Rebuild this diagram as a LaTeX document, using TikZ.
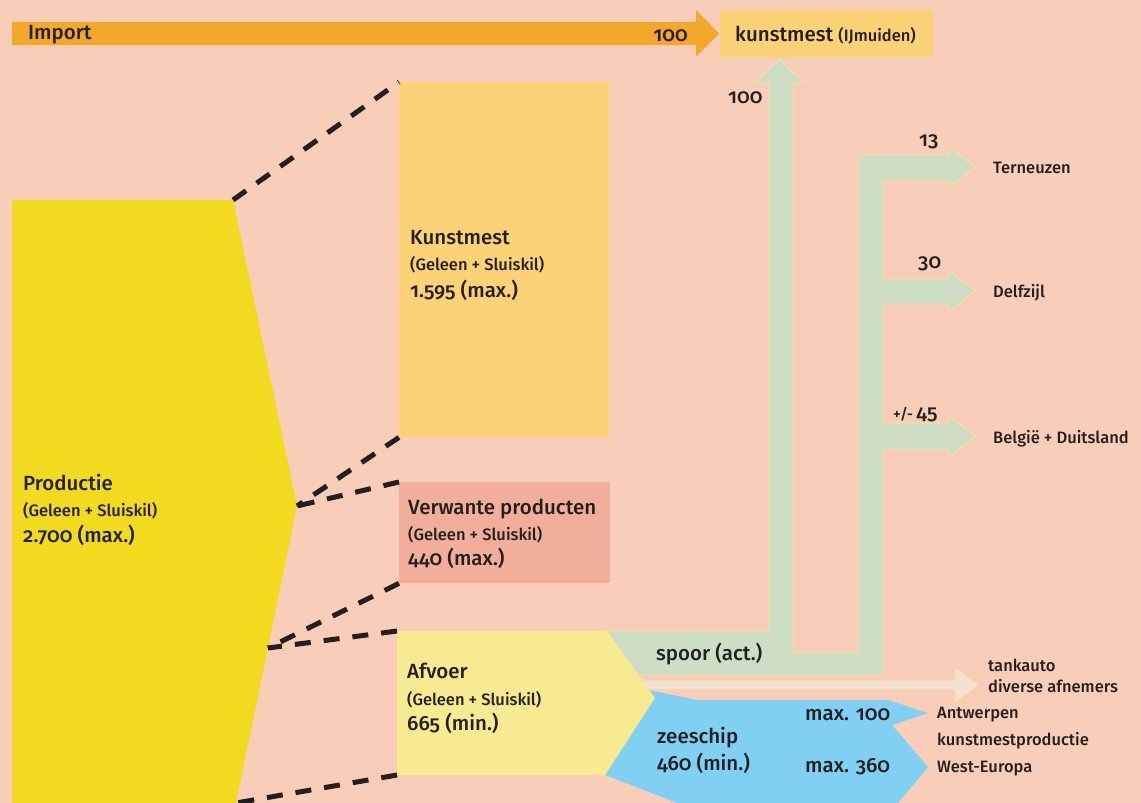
\documentclass[tikz,border=0pt]{standalone}
\usepackage{fontspec}
\setmainfont{Fira Sans}[Numbers=OldStyle, UprightFont={* Medium}]
\usetikzlibrary{positioning}

\definecolor{bgpeach}{RGB}{248,206,184}
\definecolor{importorange}{RGB}{243,168,41}
\definecolor{kunstgold}{RGB}{251,210,117}
\definecolor{prodyellow}{RGB}{242,219,30}
\definecolor{verwrose}{RGB}{241,174,155}
\definecolor{afvyellow}{RGB}{248,234,145}
\definecolor{spoorgreen}{RGB}{206,222,196}
\definecolor{flowedge}{RGB}{244,232,150}
\definecolor{shipblue}{RGB}{128,208,244}
\definecolor{tankpink}{RGB}{243,224,212}
\definecolor{inkdark}{RGB}{35,31,32}

\begin{document}
\begin{tikzpicture}[x=1pt, y=-1pt,
    % Styles
    box/.style={inner sep=0pt, anchor=north west},
    txt/.style={inner sep=0pt, anchor=base west, text=inkdark, font=\fontsize{20.5}{24}\selectfont},
    subtxt/.style={inner sep=0pt, anchor=base west, text=inkdark, font=\fontsize{16.5}{20}\selectfont},
    flow/.style={fill=spoorgreen, draw=flowedge, line width=0.8pt},
    dashlink/.style={draw=inkdark, line width=5pt, dash pattern=on 16pt off 13pt},
]
\useasboundingbox (0,0) rectangle (1141,803);
\fill[bgpeach] (0,0) rectangle (1141,803);

% Import
\fill[importorange] (12,22) -- (696,22) -- (696,10) -- (719,33.5) -- (696,57) -- (696,45) -- (12,45) -- cycle;

% Spoor: naar IJmuiden en de drie afnemers
\draw[flow] (600,631) -- (769,631) -- (769,83) -- (755,83) -- (779.5,59) -- (804,83) -- (793,83)
    -- (793,653) -- (859,653) -- (859,155)
    -- (949,155) -- (949,147) -- (975,167) -- (949,187) -- (949,180) -- (883,180)
    -- (883,279) -- (949,279) -- (949,271) -- (975,291) -- (949,312) -- (949,304) -- (883,304)
    -- (883,423) -- (949,423) -- (949,416) -- (975,436) -- (949,457) -- (949,449) -- (883,449)
    -- (883,675) -- (600,675) -- cycle;

% Tankauto
\draw[fill=tankpink, draw=flowedge, line width=0.8pt] (600,681) -- (955,681) -- (955,668) -- (978,685)
    -- (955,702) -- (955,689) -- (600,689) -- cycle;

% Zeeschip
\fill[shipblue] (600,680) -- (697,700) -- (888,700) -- (928,713) -- (892,725) -- (928,767)
    -- (898,803) -- (677,803) -- (605,775) -- cycle;

% Productie
\coordinate (prodNW) at (12,200);
\coordinate (prodNE) at (233,200);
\coordinate (prodTip) at (297,506);
\coordinate (prodMid) at (268,648);
\coordinate (prodSE) at (236,803);
\fill[prodyellow] (12,803) -- (prodNW) -- (prodNE) -- (prodTip) -- (prodSE) -- cycle;

% Afvoer
\coordinate (afvNW) at (397,631);
\coordinate (afvSW) at (397,775);
\fill[afvyellow] (afvNW) -- (607,631) -- (655,698) -- (605,775) -- (afvSW) -- cycle;

% Boxes
\node[box, fill=kunstgold, minimum width=213pt, minimum height=47pt] (kunstIJ) at (720,10) {};
\node[box, fill=kunstgold, minimum width=210pt, minimum height=355pt] (kunst) at (399,82) {};
\node[box, fill=verwrose, minimum width=211pt, minimum height=101pt] (verw) at (399,482) {};

% Dashed links
\draw[dashlink] (prodNE) -- (kunst.north west);
\draw[dashlink] (kunst.south west) -- (prodTip);
\draw[dashlink] (verw.north west) -- (prodTip);
\draw[dashlink] (verw.south west) -- (prodMid);
\draw[dashlink] (afvNW) -- (prodMid);
\draw[dashlink] (afvSW) -- (prodSE);

% Labels top
\node[txt] (importTxt) at (28,39) {Import};
\node[txt, anchor=base east] (importVal) at (688,41) {100};
\node[txt] (kunstIJTxt) at (735,41) {kunstmest {\fontsize{16.5}{20}\selectfont(IJmuiden)}};
\node[txt] (upVal) at (728,103) {100};

% Labels right
\node[txt] (ternVal) at (919,146) {13};
\node[txt] (delfVal) at (918,268) {30};
\node[txt] (belgVal) at (893,419) {{\fontsize{15}{18}\selectfont +/-}\,45};
\node[subtxt] (ternTxt) at (993,173) {Terneuzen};
\node[subtxt] (delfTxt) at (993,297) {Delfzijl};
\node[subtxt] (belgTxt) at (993,443) {België + Duitsland};

% Labels boxes
\node[txt] (kunstTitle) at (410,244) {Kunstmest};
\node[subtxt] (kunstSub) at (410,270) {(Geleen + Sluiskil)};
\node[txt] (kunstVal) at (410,297) {1.595 (max.)};

\node[txt] (prodTitle) at (23,490) {Productie};
\node[subtxt] (prodSub) at (23,516) {(Geleen + Sluiskil)};
\node[txt] (prodVal) at (23,542) {2.700 (max.)};

\node[txt] (verwTitle) at (408,514) {Verwante producten};
\node[subtxt] (verwSub) at (408,540) {(Geleen + Sluiskil)};
\node[txt] (verwVal) at (408,565) {440 (max.)};

\node[txt] (afvTitle) at (407,678) {Afvoer};
\node[subtxt] (afvSub) at (407,705) {(Geleen + Sluiskil)};
\node[txt] (afvVal) at (407,730) {665 (min.)};

% Labels bottom
\node[txt] (spoorTxt) at (656,660) {spoor (act.)};
\node[txt] (shipTxt) at (657,743) {zeeschip};
\node[txt] (shipVal) at (657,770) {460 (min.)};
\node[txt] (max100) at (805,720) {max. 100};
\node[txt] (max360) at (805,772) {max. 360};
\node[subtxt] (antwTxt) at (937,718) {Antwerpen};
\node[subtxt] (kmpTxt) at (937,745) {kunstmestproductie};
\node[subtxt] (weTxt) at (937,772) {West-Europa};
\node[subtxt] (tankTxt) at (988,671) {tankauto};
\node[subtxt] (divTxt) at (988,692) {diverse afnemers};

\end{tikzpicture}
\end{document}
